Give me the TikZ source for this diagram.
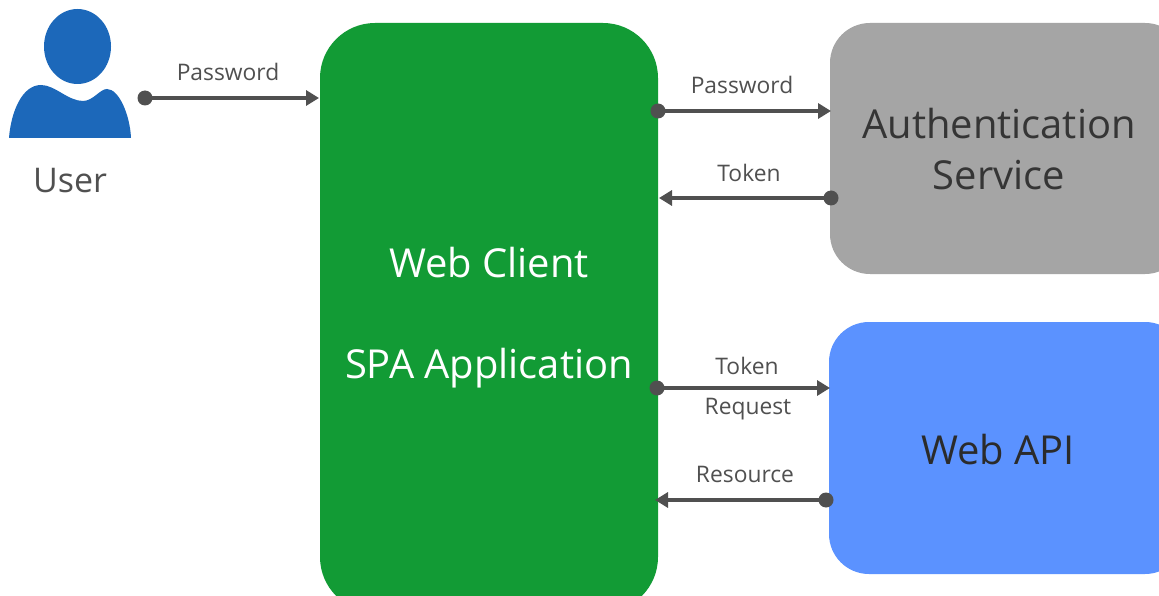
\documentclass[tikz,border=0pt]{standalone}
\usepackage{fontspec}
\setmainfont{Open Sans}
\usetikzlibrary{arrows.meta}
\definecolor{cgreen}{HTML}{129B35}
\definecolor{cgray}{HTML}{A5A5A5}
\definecolor{cblue}{HTML}{5B92FF}
\definecolor{cline}{HTML}{505050}
\definecolor{cuser}{HTML}{1C68BA}
\definecolor{ctext}{HTML}{353535}
\definecolor{capi}{HTML}{2B2B2B}
\tikzset{
  x=1pt,y=-1pt,
  conn/.style={draw=cline,line width=4.8pt,-{Triangle[length=13pt,width=15pt]}},
  lab/.style={font=\fontsize{22.8}{26}\selectfont,text=cline,inner sep=0pt,anchor=base},
  big/.style={font=\fontsize{39.9}{46}\selectfont,inner sep=0pt,anchor=base},
  dotn/.style={circle,fill=cline,minimum size=15pt,inner sep=0pt},
}
\begin{document}
\begin{tikzpicture}
\useasboundingbox (0,0) rectangle (1159,596);
\fill[white] (0,0) rectangle (1159,596);
\fill[cgreen,rounded corners=55pt] (320,23) rectangle (658,612);
\fill[cgray,rounded corners=40pt] (830,23) rectangle (1185,274);
\fill[cblue,rounded corners=40pt] (829,322) rectangle (1185,574);
\fill[cuser] (77.5,46.5) ellipse (33.5 and 37.5);
\fill[cuser] (9,138) .. controls (11,112) and (22,85) .. (41,85) .. controls (55,85) and (68,101) .. (83,101) .. controls (93,101) and (100,89) .. (107,89) .. controls (119,89) and (130,115) .. (131,138) -- cycle;
\node[big,text=white] (wc) at (489,277) {Web Client};
\node[big,text=white] (spa) at (489,378) {SPA Application};
\node[big,text=ctext] (as1) at (999,139) {Authentication};
\node[big,text=ctext] (as2) at (999,190) {Service};
\node[big,text=capi] (api) at (998,464) {Web API};
\node[big,font=\fontsize{34}{40}\selectfont,text=cline] (usr) at (70,193) {User};
\node[dotn] (d1) at (145,98) {};
\coordinate (e1) at (319,98);
\node[dotn] (d2) at (658,111) {};
\coordinate (e2) at (831,111);
\node[dotn] (d3) at (831,198) {};
\coordinate (e3) at (659,198);
\node[dotn] (d4) at (657,388) {};
\coordinate (e4) at (830,388);
\node[dotn] (d5) at (826,500) {};
\coordinate (e5) at (655,500);
\draw[conn] (d1.center) -- (e1);
\draw[conn] (d2.center) -- (e2);
\draw[conn] (d3.center) -- (e3);
\draw[conn] (d4.center) -- (e4);
\draw[conn] (d5.center) -- (e5);
\node[lab] (l1) at (228,81) {Password};
\node[lab] (l2) at (742,94) {Password};
\node[lab] (l3) at (749,182) {Token};
\node[lab] (l4) at (747,374) {Token};
\node[lab] (l5) at (748,414) {Request};
\node[lab] (l6) at (745,482) {Resource};
\end{tikzpicture}
\end{document}
